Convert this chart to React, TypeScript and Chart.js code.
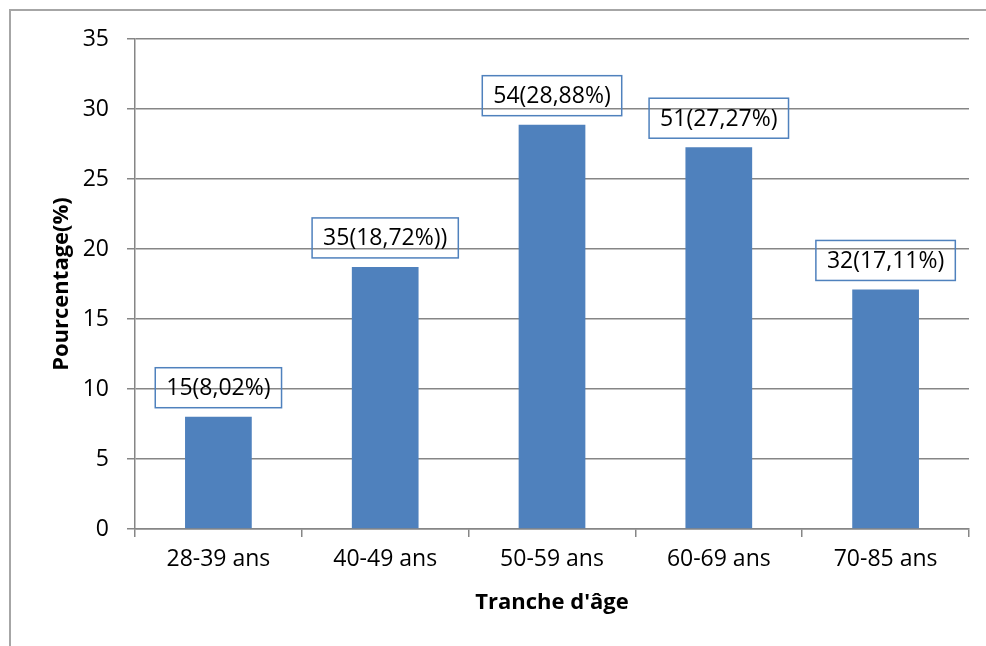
import React, { useEffect, useRef } from "react";
import { Chart, registerables } from "chart.js";

Chart.register(...registerables);

const categories = ["28-39 ans", "40-49 ans", "50-59 ans", "60-69 ans", "70-85 ans"];
const percentages = [8.02, 18.72, 28.88, 27.27, 17.11];
const dataLabels = ["15(8,02%)", "35(18,72%))", "54(28,88%)", "51(27,27%)", "32(17,11%)"];
const yMin = 0;
const yMax = 35;
const yStep = 5;

const FONT = "'Open Sans', 'DejaVu Sans', sans-serif";
const GRID = "#868686";
const BAR = "#4F81BD";
const FS = 23;

const labelBoxPlugin = {
  id: "labelBoxes",
  afterDatasetsDraw(chart: any) {
    const ctx = chart.ctx;
    const meta = chart.getDatasetMeta(0);
    ctx.save();
    ctx.font = `${FS}px ${FONT}`;
    ctx.textAlign = "center";
    ctx.textBaseline = "middle";
    meta.data.forEach((bar: any, i: number) => {
      const text = dataLabels[i];
      const w = ctx.measureText(text).width + 22;
      const h = 40;
      const bottom = bar.y - 9;
      const top = bottom - h;
      const left = bar.x - w / 2;
      ctx.strokeStyle = BAR;
      ctx.lineWidth = 1.5;
      ctx.strokeRect(left, top, w, h);
      ctx.fillStyle = "#000";
      ctx.fillText(text, bar.x, top + h / 2 + 1);
    });
    ctx.restore();
  },
};

export default function App() {
  const ref = useRef<HTMLCanvasElement | null>(null);
  useEffect(() => {
    if (!ref.current) return;
    const chart = new Chart(ref.current, {
      type: "bar",
      data: {
        labels: categories,
        datasets: [
          {
            data: percentages,
            backgroundColor: BAR,
            borderWidth: 0,
            barPercentage: 0.4,
            categoryPercentage: 1,
          },
        ],
      },
      options: {
        responsive: false,
        animation: false,
        devicePixelRatio: 1,
        layout: { padding: { top: 39, right: 17, left: 0, bottom: 0 } },
        plugins: { legend: { display: false }, tooltip: { enabled: false } },
        scales: {
          x: {
            grid: {
              display: true,
              drawOnChartArea: false,
              drawTicks: true,
              tickLength: 8,
              color: GRID,
              lineWidth: 1.5,
              offset: true,
            },
            border: { color: GRID, width: 1.5 },
            ticks: { color: "#000", font: { family: FONT, size: FS }, padding: 9 },
            title: {
              display: true,
              text: "Tranche d'âge",
              color: "#000",
              font: { family: FONT, size: 22, weight: "bold" },
              padding: { top: 0, bottom: 30 },
            },
            afterFit(scale: any) {
              scale.height = 117;
            },
          },
          y: {
            min: yMin,
            max: yMax,
            ticks: { stepSize: yStep, color: "#000", font: { family: FONT, size: FS }, padding: 18 },
            grid: { color: GRID, lineWidth: 1.5, tickLength: 8, drawTicks: true },
            border: { color: GRID, width: 1.5 },
            title: {
              display: true,
              text: "Pourcentage(%)",
              color: "#000",
              font: { family: FONT, size: 22, weight: "bold" },
              padding: { top: 49, bottom: 0 },
            },
            afterFit(scale: any) {
              scale.width = 135;
            },
          },
        },
      },
      plugins: [labelBoxPlugin],
    } as any);
    return () => chart.destroy();
  }, []);

  return (
    <div style={{ position: "fixed", left: 0, top: 0, width: 986, height: 646, background: "#fff", overflow: "hidden" }}>
      <div
        style={{
          position: "absolute",
          left: 9,
          top: 9,
          width: 1200,
          height: 1200,
          borderLeft: "2px solid #a6a6a6",
          borderTop: "2px solid #a6a6a6",
        }}
      />
      <canvas ref={ref} width={986} height={646} style={{ position: "absolute", left: 0, top: 0 }} />
    </div>
  );
}
